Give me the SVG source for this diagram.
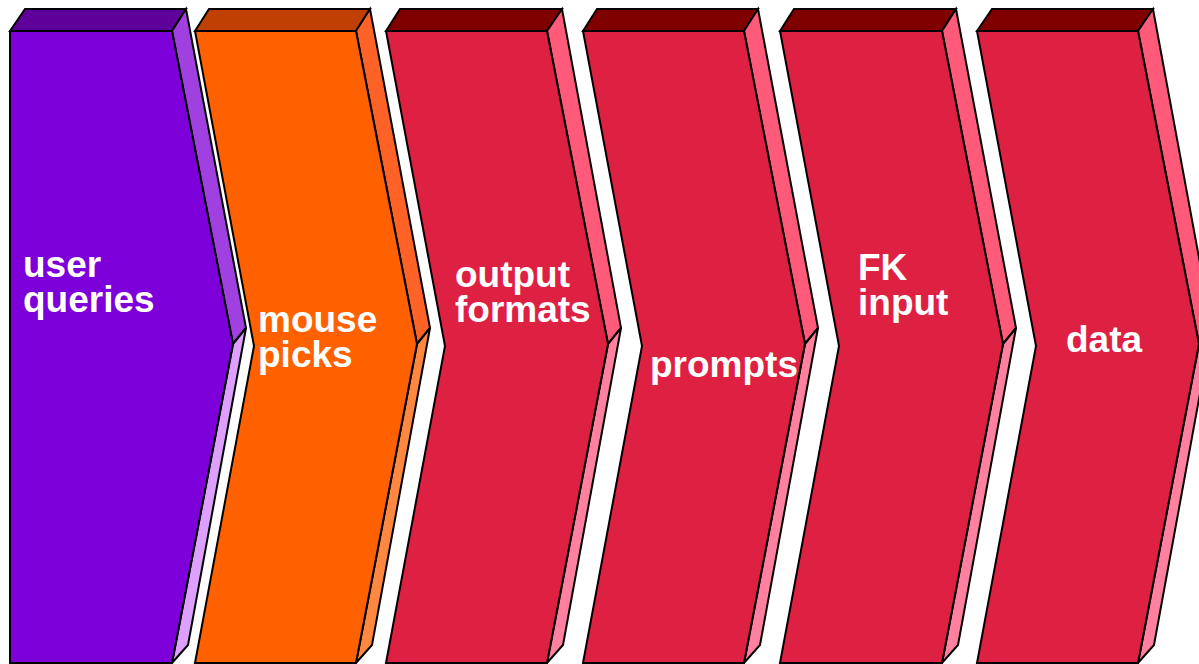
<svg xmlns="http://www.w3.org/2000/svg" width="1199" height="664" viewBox="0 0 1199 664">
<style>
polygon{stroke:#000;stroke-width:2;stroke-linejoin:miter}
text{font-family:"Liberation Sans",Arial,sans-serif;font-weight:bold;font-size:37px;fill:#fff}
.p .f{fill:#7D00DB}.p .t{fill:#5E0099}.p .u{fill:#A040E0}.p .l{fill:#DDA0FF}
.o .f{fill:#FF6100}.o .t{fill:#BF4000}.o .u{fill:#FF6226}.o .l{fill:#FF8840}
.r .f{fill:#DE2042}.r .t{fill:#800000}.r .u{fill:#FF5A7A}.r .l{fill:#FF809F}
</style>
<rect width="1199" height="664" fill="#fff"/>
<g id="node-user-queries" class="p">
<polygon class="t" points="10,31 25,9 186,9 172,31"/>
<polygon class="u" points="172,31 186,9 246,328 233,344"/>
<polygon class="l" points="233,344 246,328 188,645 172,663"/>
<polygon class="f" points="10,31 172,31 233,344 172,663 10,663"/>
<text x="23" y="277">user<tspan x="23" dy="35">queries</tspan></text>
</g>
<g id="node-mouse-picks" class="o">
<polygon class="t" points="195,31 209,9 370,9 356,31"/>
<polygon class="u" points="356,31 370,9 430,328 417,344"/>
<polygon class="l" points="417,344 430,328 372,645 356,663"/>
<polygon class="f" points="195,31 356,31 417,344 356,663 195,663 254,346"/>
<text x="258" y="332">mouse<tspan x="258" dy="35">picks</tspan></text>
</g>
<g id="node-output-formats" class="r">
<polygon class="t" points="386,31 400,9 562,9 547,31"/>
<polygon class="u" points="547,31 562,9 621,328 608,344"/>
<polygon class="l" points="608,344 621,328 563,645 547,663"/>
<polygon class="f" points="386,31 547,31 608,344 547,663 386,663 445,346"/>
<text x="455" y="287">output<tspan x="455" dy="35">formats</tspan></text>
</g>
<g id="node-prompts" class="r">
<polygon class="t" points="583,31 597,9 758,9 744,31"/>
<polygon class="u" points="744,31 758,9 818,328 805,344"/>
<polygon class="l" points="805,344 818,328 760,645 744,663"/>
<polygon class="f" points="583,31 744,31 805,344 744,663 583,663 642,346"/>
<text x="650" y="377">prompts</text>
</g>
<g id="node-fk-input" class="r">
<polygon class="t" points="780,31 794,9 956,9 942,31"/>
<polygon class="u" points="942,31 956,9 1016,328 1003,344"/>
<polygon class="l" points="1003,344 1016,328 958,645 942,663"/>
<polygon class="f" points="780,31 942,31 1003,344 942,663 780,663 839,346"/>
<text x="858" y="280">FK<tspan x="858" dy="35">input</tspan></text>
</g>
<g id="node-data" class="r">
<polygon class="t" points="977,31 992,9 1153,9 1138,31"/>
<polygon class="u" points="1138,31 1153,9 1212,328 1199,344"/>
<polygon class="l" points="1199,344 1212,328 1154,645 1138,663"/>
<polygon class="f" points="977,31 1138,31 1199,344 1138,663 977,663 1036,346"/>
<text x="1066" y="352">data</text>
</g>
<g id="connectors"/>
</svg>
